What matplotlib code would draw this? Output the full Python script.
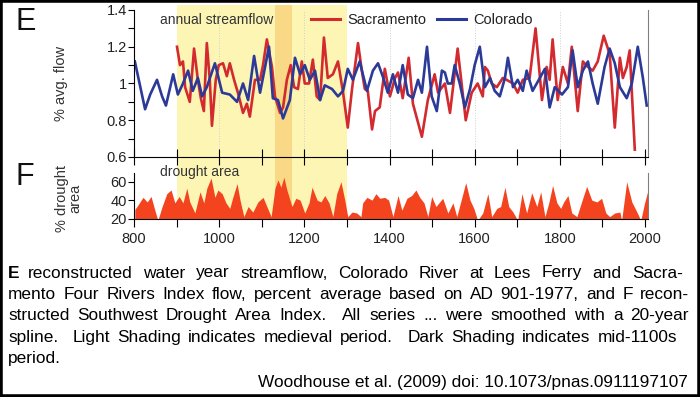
import matplotlib
matplotlib.use("Agg")
import matplotlib.pyplot as plt
import numpy as np
from matplotlib.patches import Rectangle
from matplotlib.lines import Line2D
from matplotlib.ticker import MultipleLocator, FuncFormatter

plt.rcParams['font.family'] = ['Liberation Sans', 'DejaVu Sans']

# E: reconstructed streamflow, fraction of average
colorado_years = [802, 826, 838, 854, 866, 875, 892, 903, 915, 927, 938, 950, 960, 971,
                  990, 1007, 1025, 1042, 1056, 1068, 1082, 1096, 1117, 1126, 1138, 1150,
                  1166, 1178, 1190, 1201, 1213, 1225, 1237, 1248, 1265, 1279, 1291, 1302,
                  1314, 1330, 1347, 1361, 1373, 1384, 1396, 1408, 1420, 1431, 1443, 1455,
                  1467, 1476, 1488, 1499, 1511, 1523, 1530, 1537, 1546, 1553, 1565, 1577,
                  1589, 1600, 1612, 1624, 1636, 1647, 1659, 1671, 1678, 1690, 1701, 1713,
                  1722, 1736, 1753, 1765, 1776, 1788, 1805, 1819, 1830, 1842, 1854, 1866,
                  1877, 1889, 1905, 1917, 1929, 1941, 1957, 1969, 1983, 1995, 2004]
colorado_flow = [1.12, 0.86, 0.94, 1.02, 0.93, 0.88, 1.05, 0.94, 1.00, 1.07, 0.96, 1.03,
                 0.93, 0.98, 1.11, 0.95, 0.94, 0.90, 1.00, 0.91, 1.15, 0.95, 1.20, 0.92,
                 0.91, 0.81, 0.91, 1.14, 1.05, 1.10, 1.02, 1.07, 0.91, 0.99, 0.97, 0.93,
                 0.96, 1.08, 1.02, 1.12, 0.96, 1.07, 1.11, 1.04, 0.95, 1.05, 0.95, 1.10,
                 0.94, 0.92, 1.02, 0.95, 1.20, 0.93, 0.85, 1.07, 1.06, 1.00, 1.00, 1.10,
                 1.00, 0.87, 0.97, 1.10, 1.20, 0.98, 1.03, 0.96, 0.93, 1.03, 1.14, 0.98,
                 1.02, 0.96, 1.07, 0.96, 1.03, 1.08, 0.87, 0.98, 0.94, 0.98, 1.18, 0.98,
                 1.07, 1.12, 1.00, 0.89, 1.09, 1.19, 1.11, 0.98, 0.92, 1.00, 1.20, 1.03,
                 0.88]

sacramento_years = [901, 908, 915, 920, 931, 941, 950, 957, 964, 971, 978, 983, 992, 999,
                    1009, 1018, 1025, 1035, 1044, 1056, 1065, 1072, 1084, 1096, 1103, 1112,
                    1124, 1131, 1143, 1150, 1159, 1168, 1176, 1185, 1194, 1201, 1211, 1220,
                    1229, 1237, 1246, 1255, 1267, 1279, 1291, 1302, 1312, 1326, 1335, 1342,
                    1349, 1359, 1366, 1377, 1389, 1401, 1413, 1420, 1431, 1445, 1455, 1476,
                    1490, 1506, 1514, 1530, 1542, 1560, 1579, 1593, 1607, 1619, 1624, 1631,
                    1640, 1652, 1666, 1675, 1690, 1701, 1713, 1729, 1743, 1758, 1769, 1776,
                    1783, 1795, 1807, 1819, 1828, 1842, 1854, 1866, 1877, 1889, 1903, 1917,
                    1929, 1941, 1948, 1957, 1964, 1976]
sacramento_flow = [1.20, 1.10, 1.12, 0.98, 0.90, 1.19, 1.02, 0.92, 0.85, 1.22, 1.02, 0.77,
                   1.02, 1.10, 1.11, 1.04, 1.11, 1.02, 0.95, 0.84, 0.89, 0.82, 1.02, 1.02,
                   1.10, 1.24, 1.09, 0.93, 0.84, 0.87, 1.02, 1.10, 0.98, 0.97, 1.12, 1.00,
                   1.00, 1.13, 0.93, 0.91, 1.25, 1.03, 1.05, 1.12, 0.95, 0.76, 0.97, 1.22,
                   1.07, 0.97, 0.96, 0.75, 0.85, 0.87, 1.08, 0.93, 1.03, 1.06, 0.92, 1.14,
                   0.89, 0.71, 0.91, 1.05, 0.95, 1.00, 0.84, 1.19, 0.80, 0.95, 1.00, 0.93,
                   1.09, 1.07, 1.00, 0.98, 1.03, 1.02, 1.00, 0.95, 1.02, 1.03, 1.30, 0.91,
                   1.09, 1.02, 1.24, 0.91, 1.09, 1.00, 1.20, 0.85, 1.12, 1.09, 1.07, 1.12,
                   1.26, 1.16, 0.76, 1.14, 1.03, 1.09, 1.18, 0.64]

# F: southwest drought area index, %
drought_years = [802, 807, 821, 831, 840, 849, 856, 866, 877, 887, 896, 906, 915, 924,
                 931, 943, 955, 964, 971, 981, 990, 997, 1007, 1016, 1025, 1032, 1042,
                 1049, 1058, 1068, 1079, 1091, 1103, 1112, 1122, 1131, 1138, 1145, 1152,
                 1159, 1171, 1180, 1190, 1201, 1211, 1218, 1230, 1239, 1248, 1258, 1267,
                 1276, 1286, 1295, 1302, 1312, 1323, 1333, 1337, 1347, 1359, 1368, 1377,
                 1389, 1398, 1408, 1420, 1429, 1441, 1452, 1462, 1471, 1481, 1490, 1499,
                 1509, 1516, 1525, 1537, 1549, 1558, 1570, 1579, 1589, 1598, 1607, 1619,
                 1631, 1640, 1652, 1661, 1671, 1680, 1690, 1701, 1711, 1722, 1734, 1746,
                 1755, 1765, 1774, 1783, 1793, 1802, 1809, 1819, 1828, 1840, 1851, 1863,
                 1875, 1887, 1898, 1908, 1917, 1929, 1941, 1945, 1957, 1969, 1981, 1990,
                 1999, 2006]
drought_area = [30, 33, 43, 38, 44, 29, 18, 33, 47, 51, 37, 44, 37, 53,
                38, 26, 49, 37, 53, 64, 43, 51, 47, 37, 31, 43, 58,
                40, 22, 33, 27, 38, 43, 33, 22, 53, 62, 54, 65,
                51, 33, 42, 40, 26, 37, 54, 40, 38, 45, 37, 22,
                47, 60, 40, 22, 27, 26, 22, 37, 43, 40, 47, 42,
                43, 40, 22, 45, 29, 42, 45, 51, 43, 37, 22, 44,
                33, 37, 42, 26, 37, 22, 43, 59, 40, 31, 18, 26,
                47, 22, 31, 33, 54, 33, 27, 18, 47, 26, 48, 33,
                49, 22, 37, 56, 37, 31, 38, 45, 26, 22, 38, 55,
                40, 38, 42, 26, 22, 26, 27, 18, 60, 38, 27, 18,
                37, 49]

medieval = (900, 1300)
mid1100s = (1130, 1170)

caption = [
    'reconstructed water year streamflow, Colorado River at Lees Ferry and Sacra-',
    'mento Four Rivers Index flow, percent average based on AD 901-1977, and F recon-',
    'structed Southwest Drought Area Index.  All series ... were smoothed with a 20-year',
    'spline.  Light Shading indicates medieval period.  Dark Shading indicates mid-1100s',
    'period.',
]
# right edge (px) of each justified caption line
caption_right = [683, 689, 689, 677]
source = 'Woodhouse et al. (2009) doi: 10.1073/pnas.0911197107'

W, H = 700, 397
fig = plt.figure(figsize=(W / 100, H / 100), dpi=100)
renderer = fig.canvas.get_renderer()

def frac(x0, y_top, x1, y_bot):
    # pixel box -> figure fraction rect
    return [x0 / W, 1 - y_bot / H, (x1 - x0) / W, (y_bot - y_top) / H]

def justify(line, x0, x1, y, **kw):
    # lay the words out so the line fills x0..x1 (pixels), like the justified caption
    tokens = line.split(' ')
    words, units = [], []
    n_sp = 0
    for tok in tokens:
        if tok == '':
            n_sp += 1
            continue
        if words:
            units.append(n_sp + 1)
        words.append(tok)
        n_sp = 0
    texts = [fig.text(0, 1 - y / H, w, va='center', **kw) for w in words]
    widths = [t.get_window_extent(renderer).width for t in texts]
    gap = (x1 - x0 - sum(widths)) / max(sum(units), 1)
    x = x0
    for i, (t, wd) in enumerate(zip(texts, widths)):
        t.set_x(x / W)
        if i < len(units):
            x += wd + gap * units[i]

xlim = (800, 2007)

# shading behind both panels
ax_bg = fig.add_axes(frac(134, 5, 648, 218.5))
ax_bg.set_xlim(xlim)
ax_bg.axvspan(*medieval, color='#fdf5b4', lw=0)
ax_bg.axvspan(*mid1100s, color='#f9d986', lw=0)
ax_bg.axis('off')

# E panel
ax = fig.add_axes(frac(134, 10, 648, 157))
ax.set_facecolor('none')
ax.set_xlim(xlim)
ax.set_ylim(0.6, 1.4)
for yr in [1000, 1200, 1400, 1600, 1800]:
    ax.axvline(yr, color='#cfcfcf', lw=0.7, ls=':', zorder=0)
ax.plot(sacramento_years, sacramento_flow, color='#d22a2e', lw=1.9, solid_joinstyle='round')
ax.plot(colorado_years, colorado_flow, color='#2b3a98', lw=1.9, solid_joinstyle='round')
ax.spines['top'].set_visible(False)
ax.spines['right'].set_color('#808080')
ax.spines['left'].set_bounds(0.6, 1.4)
ax.yaxis.set_major_locator(MultipleLocator(0.2))
ax.yaxis.set_minor_locator(MultipleLocator(0.1))
ax.yaxis.set_major_formatter(FuncFormatter(lambda v, p: '%g' % round(v, 1)))
ax.tick_params(axis='y', which='both', length=4, width=0.8, pad=1,
               labelsize=10.5, labelcolor='#222222')
ax.xaxis.set_major_locator(MultipleLocator(100))
ax.tick_params(axis='x', direction='inout', length=11, width=0.8, labelbottom=False)
ax.text(0.05, 0.93, 'annual streamflow', transform=ax.transAxes, fontsize=10,
        color='#333333', va='center')
handles = [Line2D([], [], color='#d22a2e', lw=2.2), Line2D([], [], color='#2b3a98', lw=2.2)]
ax.legend(handles, ['Sacramento', 'Colorado'], loc='center left',
          bbox_to_anchor=(0.345, 0.93), ncol=2, frameon=False, fontsize=10.5,
          handlelength=2.0, handletextpad=0.5, columnspacing=0.7,
          borderpad=0, borderaxespad=0, labelcolor='#222222')

# F panel
ax2 = fig.add_axes(frac(134, 173, 648, 218.5))
ax2.set_facecolor('none')
ax2.set_xlim(xlim)
ax2.set_ylim(20, 69.5)
ax2.fill_between(drought_years, drought_area, 0, color='#f3441f', lw=0)
ax2.spines['top'].set_visible(False)
ax2.spines['right'].set_color('#808080')
ax2.set_yticks([20, 40, 60])
ax2.tick_params(axis='y', length=4, width=0.8, pad=1, labelsize=10.5,
                labelcolor='#222222')
ax2.xaxis.set_major_locator(MultipleLocator(200))
ax2.xaxis.set_minor_locator(MultipleLocator(100))
ax2.tick_params(axis='x', which='both', length=6, width=0.8, pad=4,
                labelsize=10.5, labelcolor='#222222')
ax2.text(0.05, 1.02, 'drought area', transform=ax2.transAxes, fontsize=10,
         color='#333333', va='center')

# panel letters and axis titles
fig.text(16 / W, 1 - 22 / H, 'E', fontsize=22, va='center', color='#111111')
fig.text(16 / W, 1 - 177 / H, 'F', fontsize=22, va='center', color='#111111')
fig.text(61 / W, 1 - 83 / H, '% avg. flow', rotation=90, fontsize=10.5,
         ha='center', va='center', color='#333333')
fig.text(69 / W, 1 - 198 / H, '% drought\narea', rotation=90, fontsize=10.5,
         ha='center', va='center', color='#333333', linespacing=0.95)

# caption, justified like the original
cap_size = 12.4
fig.text(8 / W, 1 - 273 / H, 'E', fontsize=cap_size, fontweight='bold', va='center')
for i, line in enumerate(caption):
    y = 273 + 21.4 * i
    if i < len(caption_right):
        justify(line, 28 if i == 0 else 8, caption_right[i], y, fontsize=cap_size)
    else:
        fig.text(8 / W, 1 - y / H, line, fontsize=cap_size, va='center')
fig.text(688 / W, 1 - 383 / H, source, fontsize=cap_size, ha='right', va='center')

# black frame around the whole picture
fig.patches.append(Rectangle((0, 0), 1, 1, transform=fig.transFigure, fill=False,
                             edgecolor='black', lw=4))

fig.savefig('out.png', dpi=100)
